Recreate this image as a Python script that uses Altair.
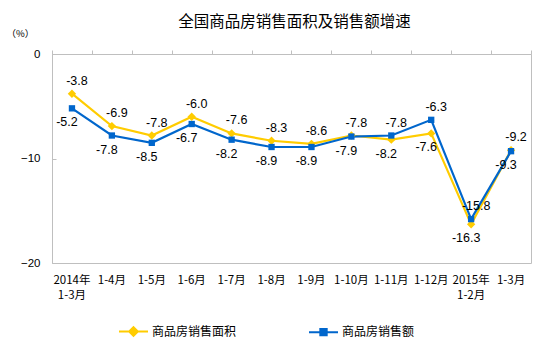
import altair as alt
import pandas as pd

categories = ["2014年\n1-3月", "1-4月", "1-5月", "1-6月", "1-7月", "1-8月",
              "1-9月", "1-10月", "1-11月", "1-12月", "2015年\n1-2月", "1-3月"]
area_growth = [-3.8, -6.9, -7.8, -6.0, -7.6, -8.3, -8.6, -7.8, -8.2, -7.6, -16.3, -9.2]
sales_growth = [-5.2, -7.8, -8.5, -6.7, -8.2, -8.9, -8.9, -7.9, -7.8, -6.3, -15.8, -9.3]
series_names = ["商品房销售面积", "商品房销售额"]
y_ticks = [-20, -10, 0]

YELLOW = "#FFCC00"
BLUE = "#0066CC"
GRAY = "#BFBFBF"

rows = []
for i, c in enumerate(categories):
    a, s = area_growth[i], sales_growth[i]
    rows.append({"cat": c, "series": series_names[0], "value": a,
                 "pos": "above" if a >= s else "below", "label": f"{a:.1f}"})
    rows.append({"cat": c, "series": series_names[1], "value": s,
                 "pos": "above" if s > a else "below", "label": f"{s:.1f}"})
df = pd.DataFrame(rows)

xscale = alt.Scale(type="band", domain=categories, paddingInner=0, paddingOuter=0)
yscale = alt.Scale(domain=[-20, 0], nice=False, zero=False)

x_none = alt.X("cat:N", scale=xscale, axis=None)
y_none = alt.Y("value:Q", scale=yscale, axis=None)

base = alt.Chart(df)

line_area = base.transform_filter(alt.datum.series == series_names[0]).mark_line(
    color=YELLOW, strokeWidth=2.2
).encode(
    x=alt.X("cat:N", scale=xscale,
            axis=alt.Axis(orient="bottom", title=None, labelAngle=0, ticks=False, domain=False,
                          labelExpr="split(datum.label, '\\n')", labelLineHeight=15,
                          labelPadding=11, labelFont="Noto Sans CJK SC", labelFontSize=11.5,
                          labelColor="#000000", labelBaseline="top")),
    y=alt.Y("value:Q", scale=yscale,
            axis=alt.Axis(orient="left", values=y_ticks, ticks=False, domainColor=GRAY,
                          labelFont="Liberation Sans", labelFontSize=11.5, labelColor="#000000",
                          labelPadding=12, grid=False,
                          title="（%）", titleAngle=0, titleAlign="left", titleBaseline="middle",
                          titleX=-46, titleY=-21, titleFont="Noto Sans CJK SC",
                          titleFontSize=9.5, titleFontWeight="normal", titleColor="#000000")),
)

line_sales = base.transform_filter(alt.datum.series == series_names[1]).mark_line(
    color=BLUE, strokeWidth=2.2
).encode(
    x=alt.X("cat:N", scale=xscale,
            axis=alt.Axis(orient="top", title=None, labels=False, ticks=True, tickBand="extent",
                          tickSize=4, tickColor=GRAY, domainColor=GRAY, grid=False)),
    y=alt.Y("value:Q", scale=yscale,
            axis=alt.Axis(orient="right", offset=-479, values=y_ticks, labels=False, domain=False,
                          ticks=True, tickSize=4, tickColor=GRAY, title=None, grid=False)),
)

pts_area = base.transform_filter(alt.datum.series == series_names[0]).mark_point(
    shape="diamond", filled=True, color=YELLOW, size=70, opacity=1
).encode(x=x_none, y=y_none)

pts_sales = base.transform_filter(alt.datum.series == series_names[1]).mark_point(
    shape="square", filled=True, color=BLUE, size=40, opacity=1
).encode(x=x_none, y=y_none)

lab_above = base.transform_filter(alt.datum.pos == "above").mark_text(
    dy=-13, dx=5, font="Liberation Sans", fontSize=12.5, color="#000000"
).encode(x=x_none, y=y_none, text="label:N")

lab_below = base.transform_filter(alt.datum.pos == "below").mark_text(
    dy=14, dx=-5, font="Liberation Sans", fontSize=12.5, color="#000000"
).encode(x=x_none, y=y_none, text="label:N")

path_diamond = ("M-1,0L1,0M0,-0.3L0.3,0L0,0.3L-0.3,0Z"
                "M0,-0.15L0.15,0L0,0.15L-0.15,0Z")
path_square = ("M-1,0L1,0M-0.22,-0.22L0.22,-0.22L0.22,0.22L-0.22,0.22Z"
               "M-0.1,-0.1L0.1,-0.1L0.1,0.1L-0.1,0.1Z")

legend_props = dict(orient="none", direction="horizontal", title=None,
                    legendX=66, legendY=262, symbolSize=841,
                    symbolStrokeWidth=2, labelFont="Noto Sans CJK SC",
                    labelFontSize=12, labelColor="#000000", labelOffset=3,
                    columnPadding=68, padding=0)

legend_layer = base.transform_filter("false").mark_point(filled=False, opacity=1).encode(
    x=x_none, y=y_none,
    color=alt.Color("series:N", scale=alt.Scale(domain=series_names, range=[YELLOW, BLUE]),
                    legend=alt.Legend(**legend_props)),
    shape=alt.Shape("series:N", scale=alt.Scale(domain=series_names,
                                                range=[path_diamond, path_square]),
                    legend=alt.Legend(**legend_props)),
)

chart = alt.layer(
    line_area, line_sales, pts_area, pts_sales, lab_above, lab_below, legend_layer
).resolve_axis(x="independent", y="independent").properties(
    width=479, height=209,
    title=alt.TitleParams("全国商品房销售面积及销售额增速", font="Noto Sans CJK SC",
                          fontSize=15.5, fontWeight="normal", color="#000000",
                          anchor="middle", offset=-2, dx=3),
    autosize=alt.AutoSizeParams(type="none"),
    padding={"left": 52, "top": 54, "right": 23, "bottom": 90},
    background="#FFFFFF",
).configure_view(stroke=GRAY, strokeWidth=1)

chart.save("out.html", embed_options={"renderer": "svg", "actions": False})
